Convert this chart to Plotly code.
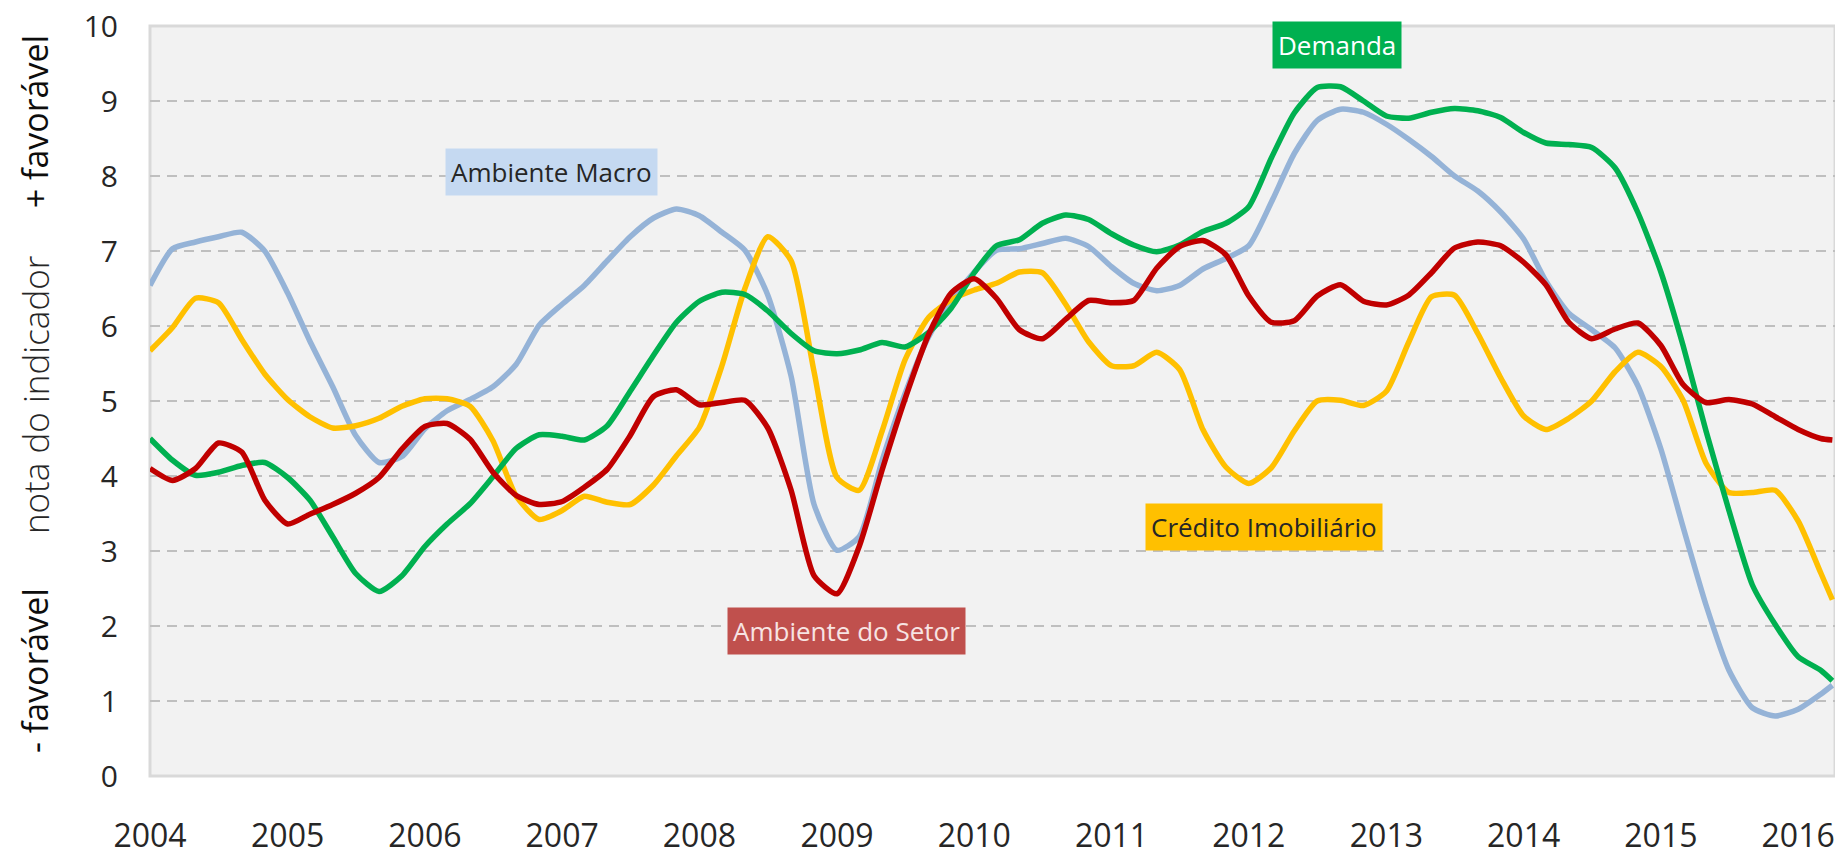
import plotly.graph_objects as go
import pandas as pd

# bimonthly observations from Jan/2004, last point Apr/2016
datas = list(pd.date_range("2004-01-01", periods=74, freq="2MS").strftime("%Y-%m-%d")) + ["2016-04-01"]

ambiente_macro = [
    6.54, 7.03, 7.12, 7.19, 7.25, 7.00, 6.44, 5.80, 5.19, 4.54, 4.18, 4.26, 4.63,
    4.87, 5.02, 5.19, 5.49, 6.01, 6.29, 6.54, 6.87, 7.19, 7.44, 7.56, 7.47, 7.25,
    7.01, 6.41, 5.33, 3.62, 3.01, 3.19, 4.21, 5.10, 5.85, 6.33, 6.72, 7.01, 7.03,
    7.10, 7.17, 7.06, 6.79, 6.57, 6.47, 6.54, 6.76, 6.90, 7.07, 7.65, 8.30,
    8.74, 8.89, 8.85, 8.69, 8.49, 8.26, 8.00, 7.80, 7.52, 7.16, 6.60, 6.17, 5.95,
    5.71, 5.20, 4.36, 3.32, 2.28, 1.41, 0.91, 0.80, 0.89, 1.09, 1.21,
]
credito_imobiliario = [
    5.67, 5.98, 6.37, 6.31, 5.82, 5.36, 5.02, 4.79, 4.64, 4.67, 4.77, 4.93, 5.03,
    5.03, 4.93, 4.47, 3.73, 3.42, 3.54, 3.73, 3.65, 3.62, 3.88, 4.27, 4.65, 5.47,
    6.50, 7.19, 6.87, 5.39, 3.98, 3.81, 4.60, 5.55, 6.11, 6.35, 6.48, 6.57, 6.72,
    6.71, 6.29, 5.79, 5.47, 5.47, 5.65, 5.42, 4.62, 4.12, 3.90, 4.11, 4.60,
    5.00, 5.01, 4.94, 5.13, 5.78, 6.39, 6.41, 5.90, 5.31, 4.80, 4.62, 4.77, 5.00,
    5.39, 5.65, 5.46, 5.01, 4.17, 3.78, 3.78, 3.81, 3.40, 2.71, 2.35,
]
demanda = [
    4.50, 4.21, 4.01, 4.05, 4.14, 4.18, 3.98, 3.68, 3.19, 2.70, 2.46, 2.67, 3.06,
    3.36, 3.63, 3.99, 4.37, 4.55, 4.53, 4.48, 4.67, 5.13, 5.61, 6.05, 6.33, 6.45,
    6.42, 6.20, 5.90, 5.67, 5.63, 5.68, 5.78, 5.72, 5.91, 6.24, 6.71, 7.07, 7.15,
    7.37, 7.48, 7.42, 7.23, 7.08, 6.99, 7.08, 7.26, 7.37, 7.59, 8.24, 8.84,
    9.18, 9.19, 9.00, 8.80, 8.77, 8.85, 8.90, 8.87, 8.78, 8.58, 8.44, 8.42, 8.38,
    8.11, 7.51, 6.72, 5.74, 4.60, 3.54, 2.55, 2.02, 1.59, 1.41, 1.27,
]
ambiente_setor = [
    4.10, 3.94, 4.10, 4.44, 4.32, 3.68, 3.36, 3.49, 3.62, 3.77, 3.98, 4.36, 4.66,
    4.70, 4.49, 4.05, 3.74, 3.62, 3.66, 3.85, 4.09, 4.54, 5.06, 5.15, 4.95, 4.98,
    5.01, 4.64, 3.81, 2.67, 2.43, 3.06, 4.08, 5.03, 5.88, 6.44, 6.63, 6.37, 5.95,
    5.83, 6.09, 6.34, 6.31, 6.34, 6.77, 7.06, 7.14, 6.95, 6.40, 6.05, 6.07,
    6.40, 6.55, 6.33, 6.28, 6.41, 6.71, 7.04, 7.12, 7.07, 6.85, 6.55, 6.05, 5.83,
    5.96, 6.04, 5.74, 5.22, 4.98, 5.02, 4.96, 4.79, 4.62, 4.50, 4.48,
]

fig = go.Figure()

series = [
    ("Ambiente Macro", ambiente_macro, "#95b3d7"),
    ("Crédito Imobiliário", credito_imobiliario, "#ffc000"),
    ("Demanda", demanda, "#00b050"),
    ("Ambiente do Setor", ambiente_setor, "#c00000"),
]
for nome, valores, cor in series:
    fig.add_trace(go.Scatter(
        x=datas, y=valores, mode="lines", name=nome,
        line=dict(color=cor, width=5.5, shape="spline", smoothing=0.6),
    ))

# label boxes next to each line
rotulos = [
    ("Ambiente Macro", "2006-12-03", 8.05, "#c5d9f1", "#262626"),
    ("Demanda", "2012-08-22", 9.75, "#00b050", "#ffffff"),
    ("Ambiente do Setor", "2009-01-26", 1.94, "#c0504d", "#f7e4e3"),
    ("Crédito Imobiliário", "2012-02-10", 3.32, "#ffc000", "#262626"),
]
for texto, x, y, fundo, cor in rotulos:
    fig.add_annotation(
        x=x, y=y, text=texto, showarrow=False, bgcolor=fundo, borderpad=5,
        font=dict(family="Open Sans", size=26, color=cor),
    )

# y-axis title in three pieces
titulo_y = [
    ("+ favorável", 0.873, 34, "#0d0d0d", 500),
    ("nota do indicador", 0.508, 35, "#262626", 300),
    ("- favorável", 0.140, 34, "#0d0d0d", 500),
]
for texto, y, tam, cor, peso in titulo_y:
    fig.add_annotation(
        x=-0.0682, y=y, xref="paper", yref="paper", xanchor="center", yanchor="middle",
        text=texto, textangle=-90, showarrow=False,
        font=dict(family="Open Sans", size=tam, color=cor, weight=peso),
    )

fig.add_shape(type="rect", xref="paper", yref="paper", x0=0, y0=0, x1=1, y1=1,
              line=dict(color="#d9d9d9", width=3), layer="below")

fig.update_layout(
    width=1835, height=856,
    margin=dict(l=150, r=0, t=26, b=72),
    paper_bgcolor="white",
    plot_bgcolor="#f2f2f2",
    showlegend=False,
    xaxis=dict(
        type="date", range=["2004-01-01", "2016-04-08"],
        dtick="M12", tick0="2004-01-01", tickformat="%Y",
        showgrid=False, zeroline=False, showline=False,
        ticks="", ticklabelstandoff=38, ticklabeloverflow="allow",
        tickfont=dict(family="Open Sans", size=32, color="#262626"),
    ),
    yaxis=dict(
        range=[0, 10], dtick=1, tick0=0,
        showgrid=True, gridcolor="#bfbfbf", gridwidth=2, griddash="10px,7px",
        zeroline=False, showline=False,
        ticks="", ticklabelstandoff=31,
        tickfont=dict(family="Open Sans", size=30, color="#262626"),
    ),
)

fig.write_html("out.html", config={"displayModeBar": False},
               post_script="document.body.style.margin='0';")
